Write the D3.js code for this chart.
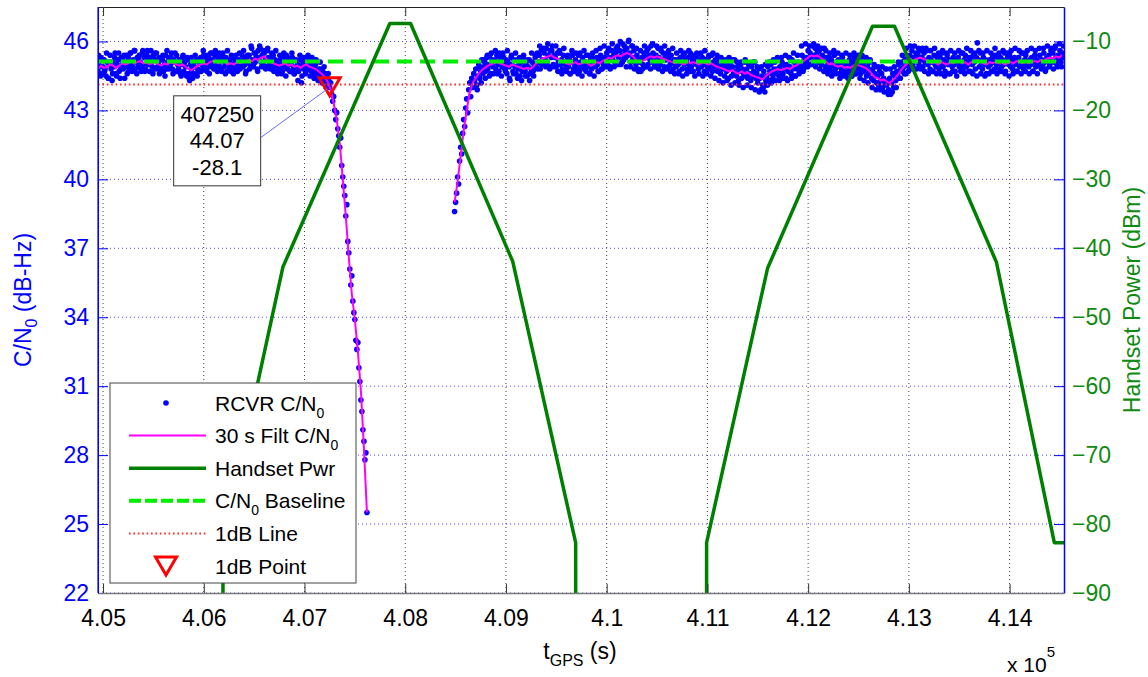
<!DOCTYPE html>
<html><head><meta charset="utf-8">
<script src="https://cdn.jsdelivr.net/npm/d3@7"></script>
<style>body{margin:0;background:#fff;} svg{display:block;font-family:"Liberation Sans",Arial,sans-serif;}</style>
</head><body><svg id="c" width="1148" height="677"></svg>
<script>
// ---------------- data ----------------
const xTickValues = [405000,406000,407000,408000,409000,410000,411000,412000,413000,414000];
const xTickLabels = ["4.05","4.06","4.07","4.08","4.09","4.1","4.11","4.12","4.13","4.14"];
const cnoTicks = [22,25,28,31,34,37,40,43,46];
const pwrTicks = [-90,-80,-70,-60,-50,-40,-30,-20,-10];

// receiver C/N0 samples, 10 s apart
const sampleStep = 10;
const seg1Start = 404950;
const rcvrCno1 = [
44.7,45.0,44.9,45.3,44.6,44.9,45.2,44.8,44.5,45.1,
44.4,45.0,45.4,44.8,44.3,45.1,44.9,45.5,44.6,45.0,
45.2,44.7,44.4,45.3,45.0,44.8,45.4,44.9,45.1,44.6,
45.3,44.9,45.5,45.0,44.7,45.2,45.6,44.8,45.1,45.3,
44.9,45.4,45.1,44.7,45.5,45.0,45.3,44.8,45.2,45.6,
45.0,44.7,45.3,45.1,44.9,45.4,44.8,45.2,45.5,44.9,
45.1,44.6,45.3,44.9,45.2,44.7,45.0,45.4,44.8,45.1,
45.3,44.9,45.0,45.5,44.8,45.2,45.1,44.7,45.4,45.0,
44.8,45.2,44.6,45.0,45.3,44.7,45.1,44.9,44.5,45.2,
44.6,44.3,45.0,44.8,44.4,45.1,44.9,44.6,45.2,44.8,
45.1,44.7,45.3,45.0,44.8,45.4,44.9,45.2,44.7,45.1,
45.3,44.9,45.5,45.0,45.2,44.8,45.4,45.1,44.9,45.3,
45.0,45.4,44.8,45.2,45.5,44.9,45.1,45.3,44.7,45.2,
44.9,45.2,44.7,45.0,45.3,44.8,45.1,45.4,44.9,45.0,
45.2,44.8,45.1,45.4,44.9,45.3,45.0,44.7,45.2,45.1,
45.4,45.0,45.8,45.2,44.9,45.5,45.1,45.3,44.8,45.6,
45.3,45.7,45.1,45.4,45.0,45.5,45.2,44.9,45.6,45.3,
45.1,44.8,45.3,45.0,45.4,44.9,45.2,44.7,45.1,45.0,
44.8,45.2,45.0,44.7,45.3,44.9,45.1,45.4,44.8,45.0,
45.1,44.7,45.0,45.3,44.8,44.6,45.2,44.9,45.0,44.7,
44.9,45.2,44.2,45.0,44.8,45.1,44.6,45.0,44.9,45.2,
44.8,45.0,44.7,44.9,44.6,44.8,45.0,44.7,44.5,44.8,
44.6,44.8,44.5,44.7,44.4,44.6,44.3,44.5,44.2,44.3,
44.0,44.2,43.7,43.4,43.6,43.0,42.6,42.9,42.2,41.9,
41.4,41.8,40.6,40.1,39.7,39.3,38.4,38.9,37.3,36.8,
36.1,35.4,35.8,34.7,34.2,33.9,33.0,32.6,32.9,31.8,
31.2,30.4,29.9,29.1,28.6,27.8,28.1,25.5];
const seg2Start = 408490;
const rcvrCno2 = [
38.6,39.0,39.4,40.1,39.8,40.8,41.4,41.1,42.0,42.6,
42.3,43.1,43.5,42.9,43.9,44.2,43.6,44.4,44.0,44.6,
44.3,44.8,44.1,44.5,45.0,44.4,44.7,45.2,44.6,44.9,
45.1,44.7,45.3,44.8,45.0,45.4,44.6,45.2,44.9,45.1,
45.2,44.8,45.4,45.0,44.7,45.3,45.1,44.9,45.5,45.0,
44.8,45.2,44.6,45.1,44.9,44.3,45.3,45.0,44.7,45.2,
44.9,44.6,45.2,44.8,45.0,44.5,45.1,44.7,45.3,44.9,
44.7,45.0,44.5,44.9,45.2,44.6,44.8,45.1,44.7,45.0,
45.3,44.9,45.5,45.1,45.4,44.8,45.6,45.2,45.0,45.5,
45.2,45.7,45.1,45.4,44.9,45.6,45.3,45.8,45.0,45.4,
45.3,44.9,45.5,45.1,45.6,45.0,45.2,44.8,45.4,45.1,
45.0,44.7,45.3,44.9,45.2,44.6,45.1,45.4,44.8,45.0,
45.2,44.8,45.0,45.4,44.7,45.1,44.9,45.3,45.0,44.8,
45.1,45.4,44.9,45.0,44.6,45.2,44.8,45.5,45.0,45.1,
44.9,45.3,45.0,44.7,45.2,45.4,44.8,45.1,45.0,45.3,
45.2,45.5,45.0,45.7,45.3,44.9,45.6,45.2,45.4,45.1,
45.5,45.1,45.8,45.3,45.6,45.0,45.4,45.9,45.2,45.6,
45.3,45.7,45.4,46.05,45.5,45.1,45.8,45.3,45.6,45.2,
45.0,45.4,44.8,45.2,45.1,44.7,45.3,45.0,45.5,44.9,
45.3,45.6,45.0,45.4,45.2,45.8,45.1,45.5,45.3,44.9,
45.4,45.1,45.7,45.3,45.0,45.6,45.2,45.5,44.9,45.3,
45.2,45.5,44.9,45.3,45.0,45.4,45.1,44.8,45.2,45.0,
44.9,45.2,45.0,44.7,45.3,45.1,44.8,45.4,45.0,45.2,
45.1,44.8,45.3,45.0,45.5,44.9,45.2,44.7,45.1,45.3,
45.0,45.4,44.8,45.1,45.2,44.9,45.3,45.0,44.7,45.2,
45.1,44.9,45.3,44.8,45.0,45.4,44.7,45.1,44.9,45.2,
45.0,44.7,45.2,44.9,44.6,45.1,44.8,45.0,44.5,44.9,
44.7,45.0,44.4,44.8,45.1,44.5,44.9,44.6,45.2,44.7,
44.5,44.9,44.3,44.7,45.0,44.4,44.8,44.6,45.1,44.5,
44.8,44.4,45.0,44.6,44.3,44.9,44.5,44.7,45.1,44.4,
44.6,44.2,44.8,44.4,43.9,44.5,44.1,44.7,43.8,44.3,
44.5,44.9,44.3,44.7,45.0,44.6,44.4,44.8,45.1,44.6,
44.8,45.2,44.5,44.9,44.7,45.1,44.6,45.0,44.8,44.4,
45.0,44.7,45.3,44.9,44.6,45.2,44.8,45.1,44.5,44.9,
44.8,45.1,44.6,45.0,44.9,45.4,44.7,45.2,45.0,45.3,
45.2,45.6,45.0,45.5,45.3,45.8,45.1,45.4,45.7,45.2,
45.5,45.1,45.6,45.3,45.0,45.4,45.2,45.7,44.9,45.3,
45.1,44.8,45.3,44.9,45.2,44.7,45.0,45.4,44.8,45.1,
44.9,45.2,44.6,45.0,44.8,45.3,44.7,45.1,44.9,44.6,
45.0,44.7,45.2,44.9,44.5,45.1,44.8,45.3,44.6,45.0,
45.2,44.8,45.0,44.6,45.3,44.9,44.7,45.1,44.8,44.5,
44.9,44.6,45.1,44.7,44.4,44.8,44.3,44.6,44.9,44.2,
44.5,44.1,44.7,44.3,44.6,44.0,44.4,44.2,44.8,44.1,
44.3,43.9,44.4,43.7,44.2,44.6,44.0,44.5,44.3,44.7,
44.6,45.0,44.4,44.8,45.1,44.7,44.9,45.2,44.6,45.0,
45.3,44.9,45.4,45.1,45.6,45.0,45.3,44.8,45.5,45.2,
45.4,45.0,45.6,45.2,45.3,44.9,45.5,45.1,45.7,45.2,
45.0,45.3,44.8,45.2,45.1,44.7,45.4,45.0,44.9,45.3,
45.1,44.8,45.3,45.0,45.5,44.9,45.2,44.7,45.1,45.4,
45.0,45.2,44.6,45.1,44.9,45.3,45.0,44.7,45.2,45.1,
45.3,44.9,45.1,45.5,45.0,44.8,45.2,45.4,44.9,45.1,
45.0,45.3,44.7,45.2,45.0,45.4,45.1,44.8,45.3,45.94,
45.2,44.9,45.5,45.1,44.8,45.3,45.0,45.2,44.6,45.1,
44.9,45.2,45.0,44.7,45.3,45.1,44.8,45.4,45.0,45.2,
45.1,44.8,45.3,44.9,45.2,45.0,45.5,44.7,45.1,45.3,
45.0,45.4,44.9,45.2,44.8,45.1,45.3,45.0,44.7,45.2,
45.3,44.9,45.1,45.5,45.0,44.8,45.2,45.4,45.0,45.1,
44.9,45.2,45.0,45.3,44.7,45.1,45.4,44.9,45.2,45.0,
45.1,45.4,44.9,45.2,45.0,45.5,45.1,44.8,45.3,45.2,
45.4,45.0,45.6,45.2,45.5,45.1,45.7,45.3,45.0,45.4,
45.2,45.6,45.1,45.5,45.3,45.4];

// extra receiver samples between the above, 20 s apart, offset 5 s
const edgeStep = 20;
const edge1Start = 404955;
const rcvrEdge1 = [
45.4,44.5,45.2,44.7,45.5,44.4,45.1,44.6,45.3,44.5,45.5,44.8,45.2,44.4,45.4,
44.7,45.5,44.9,45.6,44.6,45.3,44.8,45.6,44.7,45.4,45.0,45.6,44.6,45.5,44.8,45.3,
44.7,45.4,44.5,45.6,44.8,45.3,44.6,45.5,44.7,45.2,44.5,45.4,44.6,45.3,
44.4,45.3,44.6,45.4,44.5,45.2,44.7,45.6,44.8,45.4,44.6,45.5,44.9,45.6,44.7,
45.5,44.7,45.3,44.6,45.6,44.8,45.4,44.6,45.2,44.7,45.5,44.9,45.6,44.6,45.4,
44.8,45.7,45.0,45.5,44.7,45.8,44.9,45.6,44.8,45.7,45.0,45.5,44.7,45.6,44.6,
45.4,44.6,45.5,44.5,45.3,44.7,45.5,44.6,45.2,44.3,45.4,44.5,45.3,44.7,45.4,
44.5,45.3,44.4,45.2,44.3,45.1,44.2,44.9,44.0,44.6];
const edge2Start = 408715;
const rcvrEdge2 = [
43.9,44.9,44.2,45.2,44.4,45.4,44.5,45.5,44.6,45.6,
44.6,45.5,44.5,45.3,44.7,45.6,44.4,45.4,44.6,45.5,
44.4,45.3,44.3,45.4,44.5,45.2,44.3,45.5,44.5,45.4,
44.8,45.8,45.0,45.7,44.9,45.9,44.8,45.6,44.9,45.8,
44.7,45.5,44.6,45.7,44.8,45.4,44.6,45.6,44.7,45.5,
44.6,45.5,44.5,45.6,44.7,45.4,44.6,45.3,44.5,45.6,
44.7,45.7,44.8,45.8,44.9,45.6,44.8,45.9,44.9,45.7,
45.0,46.0,45.1,45.8,44.9,46.0,44.9,45.8,44.8,45.7,
44.7,45.6,44.8,45.8,44.9,45.7,44.8,45.9,44.9,45.8,
44.8,45.7,44.7,45.8,44.8,45.6,44.7,45.7,44.6,45.5,
44.6,45.6,44.5,45.5,44.6,45.6,44.7,45.4,44.5,45.5,
44.6,45.5,44.5,45.6,44.6,45.4,44.5,45.5,44.4,45.4,
44.3,45.3,44.2,45.2,44.3,45.3,44.1,45.2,44.2,45.1,
44.1,45.1,44.0,45.2,44.1,45.0,44.0,45.1,43.9,44.9,
43.8,44.9,44.0,45.0,44.1,45.1,44.2,45.2,44.3,45.3,
44.3,45.3,44.4,45.4,44.3,45.3,44.4,45.5,44.5,45.4,
44.7,45.8,44.8,45.9,44.9,45.8,45.0,45.9,44.9,45.8,
44.8,45.7,44.7,45.6,44.6,45.5,44.5,45.6,44.6,45.5,
44.4,45.4,44.5,45.5,44.4,45.4,44.5,45.5,44.6,45.4,
44.4,45.4,44.3,45.3,44.2,45.2,44.0,45.0,43.9,44.9,
43.9,44.9,43.8,44.8,43.7,44.8,43.8,44.9,44.0,45.1,
44.4,45.4,44.6,45.7,44.7,45.8,44.8,45.8,44.8,45.7,
44.8,45.7,44.7,45.6,44.6,45.6,44.7,45.7,44.6,45.5,
44.6,45.6,44.5,45.5,44.6,45.6,44.7,45.5,44.5,45.6,
44.7,45.5,44.6,45.7,44.7,45.6,44.6,45.5,44.5,45.6,
44.6,45.5,44.5,45.6,44.6,45.5,44.7,45.7,44.6,45.5,
44.7,45.6,44.6,45.5,44.5,45.6,44.6,45.7,44.7,45.6,
44.6,45.5,44.7,45.6,44.6,45.7,44.7,45.6,44.6,45.7,
44.8,45.7,44.7,45.8,44.9,45.7,44.8,45.8,44.9,45.9,
44.9,45.8];

// 30 s filtered C/N0, 30 s apart
const filtStep = 30;
const filtCno1 = [
44.8,44.95,44.85,44.9,45.0,44.95,44.85,44.95,45.05,45.0,
45.05,45.15,45.05,45.1,45.15,45.05,45.1,45.0,45.05,45.1,
45.0,44.95,45.05,45.0,45.1,45.05,45.0,44.95,45.0,44.9,
44.8,44.75,44.85,44.95,45.0,45.05,45.0,45.1,45.15,45.1,
45.05,45.15,45.1,45.0,45.05,45.0,45.1,45.05,45.1,45.15,
45.2,45.15,45.25,45.2,45.3,45.35,45.2,45.1,45.05,45.0,
44.95,45.0,45.05,44.95,45.0,44.9,44.95,44.85,44.95,45.0,
44.9,44.85,44.8,44.7,44.6,44.45,44.25,43.9,43.3,42.6,
41.6,40.0,38.4,36.6,35.0,33.9,32.5,30.8,28.3,25.5];
const filtCno2 = [
39.0,39.9,41.0,42.1,43.0,43.8,44.2,44.4,44.6,44.75,
44.85,44.95,45.0,45.05,45.1,45.05,45.0,44.95,44.9,45.0,
44.95,44.9,44.85,44.8,44.85,44.8,44.9,45.05,45.15,45.25,
45.3,45.35,45.4,45.3,45.25,45.2,45.1,45.05,45.0,45.05,
45.1,45.0,45.05,45.1,45.05,44.95,45.0,45.1,45.05,45.15,
45.2,45.3,45.25,45.35,45.4,45.35,45.45,45.5,45.45,45.35,
45.2,45.1,45.15,45.2,45.3,45.35,45.3,45.35,45.3,45.25,
45.2,45.15,45.1,45.05,45.1,45.05,45.0,45.1,45.05,45.1,
45.05,45.0,45.1,45.05,45.0,45.05,44.95,44.9,44.85,44.8,
44.75,44.7,44.75,44.65,44.6,44.7,44.6,44.65,44.55,44.5,
44.45,44.4,44.35,44.5,44.6,44.7,44.75,44.8,44.75,44.8,
44.85,44.8,44.9,44.95,45.05,45.1,45.2,45.3,45.4,45.35,
45.4,45.3,45.2,45.1,45.0,45.05,44.95,44.9,44.95,44.85,
44.9,44.85,44.95,45.0,44.95,44.9,44.85,44.75,44.6,44.45,
44.4,44.3,44.35,44.25,44.2,44.3,44.45,44.6,44.8,44.95,
45.05,45.15,45.2,45.25,45.3,45.25,45.2,45.1,45.05,45.1,
45.0,45.1,45.05,45.0,45.1,45.05,45.1,45.15,45.05,45.1,
45.0,45.1,45.15,45.2,45.1,45.05,45.0,45.1,45.05,45.1,
45.05,45.1,45.0,45.05,45.1,45.05,45.15,45.1,45.05,45.1,
45.05,45.1,45.15,45.1,45.2,45.15,45.25,45.3,45.25,45.35,
45.3,45.4];

// handset power breakpoints
const pwrTime = [404950,406190,406191,406786,407847,408053,409067,409692,409693,410991,410992,411597,412639,412857,413869,414444,414540];
const pwrVal  = [-100,-100,-82.7,-42.7,-7.4,-7.4,-41.9,-82.7,-100,-100,-82.7,-42.9,-7.8,-7.8,-42.0,-82.7,-82.7];

const baselineCno = 45.13;
const oneDbCno = 44.13;
const pointTime = 407250, pointCno = 44.07, pointPwr = -28.1;
const legendLabels = ["RCVR C/N", "30 s Filt C/N", "Handset Pwr", "C/N", "1dB Line", "1dB Point"];

// ---------------- chart ----------------
const svg = d3.select("#c");
const L = 98, R = 1064, T = 7, B = 593;
const FS = 23;
const x = d3.scaleLinear().domain([404950, 414540]).range([L, R]);
const yL = d3.scaleLinear().domain([22, 47.5]).range([B, T]);
const yR = d3.scaleLinear().domain([-90, -5]).range([B, T]);

svg.append("defs").append("clipPath").attr("id","clip")
  .append("rect").attr("x",L).attr("y",T).attr("width",R-L).attr("height",B-T);

// grid
const grid = svg.append("g");
grid.selectAll(".vg").data(xTickValues).join("line")
  .attr("x1",d=>x(d)).attr("x2",d=>x(d)).attr("y1",T).attr("y2",B)
  .attr("stroke","#444").attr("stroke-width",1).attr("stroke-dasharray","1,3");
grid.selectAll(".hg").data(cnoTicks).join("line")
  .attr("x1",L).attr("x2",R).attr("y1",d=>yL(d)).attr("y2",d=>yL(d))
  .attr("stroke","#4848ff").attr("stroke-width",1).attr("stroke-dasharray","1,3");

const plot = svg.append("g").attr("clip-path","url(#clip)");

// scatter
const pts = rcvrCno1.map((v,i)=>({t:seg1Start+i*sampleStep, v}))
  .concat(rcvrCno2.map((v,i)=>({t:seg2Start+i*sampleStep, v})))
  .concat(rcvrEdge1.map((v,i)=>({t:edge1Start+i*edgeStep, v})))
  .concat(rcvrEdge2.map((v,i)=>({t:edge2Start+i*edgeStep, v})));
plot.selectAll(".pt").data(pts).join("circle")
  .attr("cx", d=>x(d.t)).attr("cy", d=>yL(d.v)).attr("r",2.8)
  .attr("fill","#0000ff");

// filtered
const line = d3.line().x(d=>x(d.t)).y(d=>yL(d.v));
[[seg1Start, filtCno1],[seg2Start, filtCno2]].forEach(([s,arr])=>{
  plot.append("path").datum(arr.map((v,i)=>({t:s+i*filtStep, v})))
    .attr("d", line).attr("fill","none").attr("stroke","#ff00ff").attr("stroke-width",2);
});

// baseline & 1dB line
plot.append("line").attr("x1",L).attr("x2",R).attr("y1",yL(baselineCno)).attr("y2",yL(baselineCno))
  .attr("stroke","#00ee00").attr("stroke-width",4).attr("stroke-dasharray","15,8");
plot.append("line").attr("x1",L).attr("x2",R).attr("y1",yL(oneDbCno)).attr("y2",yL(oneDbCno))
  .attr("stroke","#ff2a2a").attr("stroke-width",2).attr("stroke-dasharray","1.6,2.8");

// handset power
const pwrLine = d3.line().x(d=>x(d[0])).y(d=>yR(d[1]));
plot.append("path").datum(pwrTime.map((t,i)=>[t,pwrVal[i]]))
  .attr("d", pwrLine).attr("fill","none").attr("stroke","#008000").attr("stroke-width",3.5)
  .attr("stroke-linejoin","round");

// 1dB point marker
function tri(g, cx, cy){
  g.append("path").attr("d",`M${cx-10.5},${cy-8}L${cx+10.5},${cy-8}L${cx},${cy+10}Z`)
   .attr("fill","none").attr("stroke","#ff0000").attr("stroke-width",3).attr("stroke-linejoin","miter");
}
const mx = x(pointTime), my = yL(pointCno);
tri(svg, mx, my);

// datatip
const tip = svg.append("g");
tip.append("line").attr("x1",mx-72).attr("y1",my+54).attr("x2",mx-2).attr("y2",my+3)
  .attr("stroke","#6a6aff").attr("stroke-width",1);
tip.append("rect").attr("x",mx-156).attr("y",my+10).attr("width",87).attr("height",90)
  .attr("fill","#fff").attr("stroke","#333").attr("stroke-width",1);
[String(pointTime), pointCno.toFixed(2), pointPwr.toFixed(1)].forEach((s,i)=>{
  tip.append("text").attr("x",mx-112.5).attr("y",my+36+i*26.5).attr("text-anchor","middle")
    .attr("font-size",22).attr("fill","#000").text(s);
});

// axes
const axL = d3.axisLeft(yL).tickValues(cnoTicks).tickSizeInner(-10).tickSizeOuter(0).tickPadding(9);
const gL = svg.append("g").attr("transform",`translate(${L},0)`).call(axL);
gL.selectAll("line").attr("stroke","#0000ff");
gL.select(".domain").attr("stroke","#0000ff");
gL.selectAll("text").attr("fill","#0000ff").attr("font-size",FS).attr("font-family","Liberation Sans, Arial, sans-serif");

const axR = d3.axisRight(yR).tickValues(pwrTicks).tickSizeInner(-10).tickSizeOuter(0).tickPadding(8);
const gR = svg.append("g").attr("transform",`translate(${R},0)`).call(axR);
gR.selectAll("line").attr("stroke","#0000ff");
gR.select(".domain").attr("stroke","#0000ff").attr("stroke-width",1.5);
gR.selectAll("text").attr("fill","#108a10").attr("font-size",FS).attr("font-family","Liberation Sans, Arial, sans-serif");

const axB = d3.axisBottom(x).tickValues(xTickValues).tickFormat((d,i)=>xTickLabels[i]).tickSizeInner(-9).tickSizeOuter(0).tickPadding(17);
const gB = svg.append("g").attr("transform",`translate(0,${B})`).call(axB);
gB.selectAll("line").attr("stroke","#333");
gB.select(".domain").attr("stroke","#777").attr("stroke-width",1.5);
gB.selectAll("text").attr("fill","#000").attr("font-size",FS).attr("font-family","Liberation Sans, Arial, sans-serif");

const axT = d3.axisTop(x).tickValues(xTickValues).tickFormat("").tickSizeInner(-9).tickSizeOuter(0);
const gT = svg.append("g").attr("transform",`translate(0,${T})`).call(axT);
gT.selectAll("line").attr("stroke","#333");
gT.select(".domain").attr("stroke","#222").attr("stroke-width",1.2);

svg.append("line").attr("x1",L).attr("x2",L).attr("y1",T).attr("y2",B).attr("stroke","#0000ff").attr("stroke-width",1.2);

// axis labels
const yl = svg.append("text").attr("transform","translate(31,300) rotate(-90)").attr("text-anchor","middle")
  .attr("font-size",FS).attr("fill","#0000ff");
yl.append("tspan").text("C/N");
yl.append("tspan").attr("font-size",16).attr("dy",6).text("0");
yl.append("tspan").attr("dy",-6).text(" (dB-Hz)");

svg.append("text").attr("transform","translate(1140,300) rotate(-90)").attr("text-anchor","middle")
  .attr("font-size",FS).attr("fill","#108a10").text("Handset Power (dBm)");

const xl = svg.append("text").attr("x",580).attr("y",659).attr("font-size",FS).attr("fill","#000").attr("text-anchor","middle");
xl.append("tspan").text("t");
xl.append("tspan").attr("font-size",16).attr("dy",7).text("GPS");
xl.append("tspan").attr("dy",-7).text(" (s)");

const ex = svg.append("text").attr("x",1007).attr("y",672).attr("font-size",21).attr("fill","#000");
ex.append("tspan").text("x 10");
ex.append("tspan").attr("font-size",15).attr("dy",-15).text("5");

// legend
const lg = svg.append("g");
const lgX = 110, lgY = 383, lgW = 246, lgH = 200;
lg.append("rect").attr("x",lgX).attr("y",lgY).attr("width",lgW).attr("height",lgH)
  .attr("fill","#fff").attr("stroke","#444").attr("stroke-width",1);
const rowY = i => 403 + i*32.6;
const sx1 = 129, sx2 = 206, scx = 166, tx = 215;
lg.append("circle").attr("cx",scx).attr("cy",rowY(0)).attr("r",2.8).attr("fill","#0000ff");
lg.append("line").attr("x1",sx1).attr("x2",sx2).attr("y1",rowY(1)).attr("y2",rowY(1)).attr("stroke","#ff00ff").attr("stroke-width",2);
lg.append("line").attr("x1",sx1).attr("x2",sx2).attr("y1",rowY(2)).attr("y2",rowY(2)).attr("stroke","#008000").attr("stroke-width",3.5);
lg.append("line").attr("x1",sx1).attr("x2",sx2).attr("y1",rowY(3)).attr("y2",rowY(3)).attr("stroke","#00ee00").attr("stroke-width",4).attr("stroke-dasharray","12,4");
lg.append("line").attr("x1",sx1).attr("x2",sx2).attr("y1",rowY(4)).attr("y2",rowY(4)).attr("stroke","#ff2a2a").attr("stroke-width",2).attr("stroke-dasharray","1.6,2.8");
tri(lg, scx, rowY(5)-1);
legendLabels.forEach((s,i)=>{
  const t = lg.append("text").attr("x",tx).attr("y",rowY(i)+7.5).attr("font-size",21).attr("fill","#000");
  t.append("tspan").text(s);
  if (i===0 || i===1 || i===3) {
    t.append("tspan").attr("font-size",14).attr("dy",7).text("0");
    if (i===3) t.append("tspan").attr("dy",-7).text(" Baseline");
  }
});
</script></body></html>
